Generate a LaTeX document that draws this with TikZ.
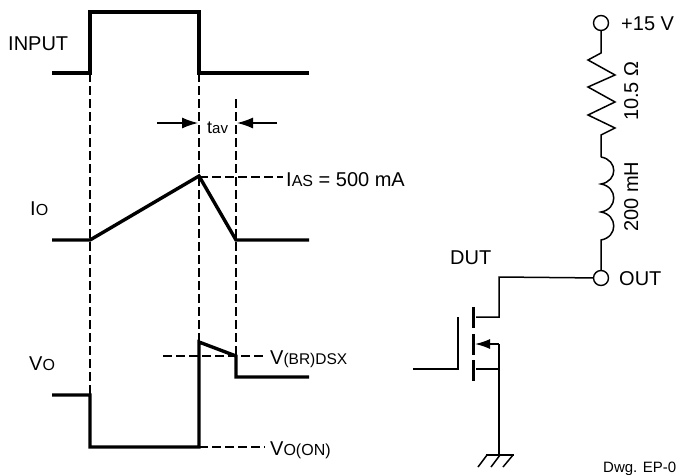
\documentclass[tikz,border=0pt]{standalone}
\usepackage{fontspec}
\setmainfont{Liberation Sans}
\usetikzlibrary{arrows.meta}
\tikzset{
  wave/.style={line width=3.4pt,line join=miter,line cap=butt},
  guide/.style={line width=1.2pt,dash pattern=on 8.5pt off 4.5pt},
  wire/.style={line width=1.5pt,line join=miter},
  gatebar/.style={line width=3.4pt},
  dimarrow/.style={line width=1.3pt,-{Latex[length=16pt,width=11pt]}},
  term/.style={circle,draw,line width=1.4pt,minimum size=15pt,inner sep=0pt,fill=white},
  lab/.style={inner sep=0pt,anchor=base west,font=\fontsize{20}{22}\selectfont}
}
\newcommand{\smtxt}[1]{{\fontsize{16}{18}\selectfont #1}}
\begin{document}
\begin{tikzpicture}[x=1pt,y=-1pt]
\useasboundingbox (0,0) rectangle (676,474);
% guides
\coordinate (g1t) at (90,73); \coordinate (g1b) at (90,395);
\coordinate (g2t) at (199,73); \coordinate (g2b) at (199,447);
\coordinate (g3t) at (236,99); \coordinate (g3b) at (236,378);
\draw[guide] (g1t) -- (g1b);
\draw[guide] (g2t) -- (g2b);
\draw[guide] (g3t) -- (g3b);
\coordinate (ias) at (283,177); \coordinate (iass) at (199,177);
\draw[guide] (iass) -- (ias);
\coordinate (brl) at (163,356); \coordinate (brr) at (265,356);
\draw[guide] (brl) -- (brr);
\coordinate (onl) at (199,447); \coordinate (onr) at (265,447);
\draw[guide] (onl) -- (onr);
% waves
\draw[wave] (52,73) -- (90,73) -- (90,12) -- (199,12) -- (199,73) -- (309,73);
\draw[wave] (52,240) -- (90,240) -- (199,176) -- (236,240) -- (309,240);
\draw[wave] (52,395) -- (90,395) -- (90,447) -- (199,447) -- (199,342) -- (236,356) -- (236,377) -- (309,377);
% dimension arrows
\coordinate (a1s) at (157,123); \coordinate (a1e) at (198,123);
\coordinate (a2s) at (277,123); \coordinate (a2e) at (237,123);
\draw[dimarrow] (a1s) -- (a1e);
\draw[dimarrow] (a2s) -- (a2e);
% labels
\node[lab] (tinput) at (8,50) {INPUT};
\node[lab] (tio) at (30,215) {I\smtxt{O}};
\node[lab] (tvo) at (29,370) {V\smtxt{O}};
\node[lab,font=\fontsize{18}{20}\selectfont] (ttav) at (207,133) {t{\fontsize{15}{16}\selectfont av}};
\node[lab] (tias) at (286,186) {I\smtxt{AS} = 500 mA};
\node[lab] (tbr) at (270,364) {V{\fontsize{15.5}{18}\selectfont (BR)DSX}};
\node[lab] (ton) at (270,455) {V\smtxt{O(ON)}};
\node[lab] (tdut) at (450,264) {DUT};
\node[lab] (tout) at (619,285) {OUT};
\node[lab] (tp15) at (621,30) {+15 V};
\node[lab,font=\fontsize{15}{17}\selectfont] (tdwg) at (603,472) {Dwg. EP-0};
\node[lab,rotate=90] (tr) at (638,121) {10.5 Ω};
\node[lab,rotate=90] (tl) at (638,232) {200 mH};
% circuit
\node[term] (vcc) at (601,23) {};
\node[term] (out) at (601,278) {};
\coordinate (rt) at (601,53);
\coordinate (rb) at (601,135);
\coordinate (lt) at (601,157);
\coordinate (lb) at (601,240);
\draw[wire] (vcc) -- (rt) -- (588,60) -- (615,75) -- (588,87) -- (615,102) -- (588,115) -- (615,128) -- (rb) -- (lt);
\draw[wire] (lt) .. controls (618,160) and (618,181) .. (601,184)
  .. controls (618,187) and (618,209) .. (601,212)
  .. controls (618,215) and (618,237) .. (lb) -- (out);
\coordinate (dr) at (476,317);
\coordinate (srcj) at (499,344);
\coordinate (srcb) at (476,369);
\coordinate (gnd) at (499,455);
\coordinate (gt) at (458,317);
\coordinate (gb) at (458,369);
\coordinate (gl) at (413,369);
\draw[wire] (out) -- (499,277) -- (499,317) -- (dr);
\draw[gatebar] (473.5,307) -- (473.5,328);
\draw[gatebar] (473.5,334) -- (473.5,355);
\draw[gatebar] (473.5,360) -- (473.5,381);
\draw[wire,-{Latex[length=15pt,width=10pt]}] (srcj) -- (475,344);
\draw[wire] (srcb) -- (499,369);
\draw[wire] (srcj) -- (gnd);
\draw[wire] (gt) -- (gb) -- (gl);
\draw[wire] (486,455) -- (514,455);
\draw[wire] (487,455) -- (478,467);
\draw[wire] (gnd) ++(1,0) -- (491,467);
\draw[wire] (513,455) -- (503,467);
\end{tikzpicture}
\end{document}
